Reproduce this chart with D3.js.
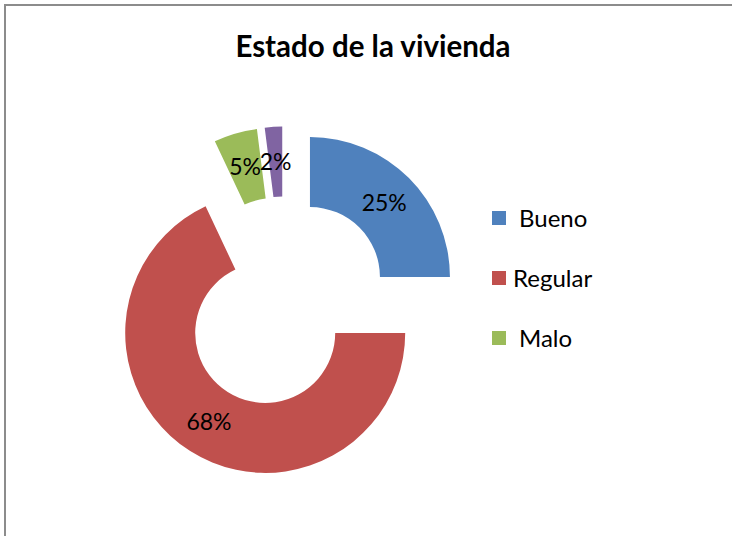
<!DOCTYPE html>
<html>
<head>
<meta charset="utf-8">
<script src="https://cdn.jsdelivr.net/npm/d3@7/dist/d3.min.js"></script>
<style>
	body { margin: 0; background: #fff; }
	svg { display: block; }
	text { font-family: Lato, "Open Sans", sans-serif; }
</style>
</head>
<body>
<svg id="chart" width="732" height="536"></svg>
<script>
// values
const categories = ['Bueno', 'Regular', 'Malo', 'Otro'];
const values = [25, 68, 5, 2];
const labels = ['25%', '68%', '5%', '2%'];
const legendItems = ['Bueno', 'Regular', 'Malo'];
const colors = ['#4f81bd', '#c0504d', '#9bbb59', '#8064a2'];

const width = 732;
const height = 536;
const cx = 284.5;
const cy = 302.5;
const outerR = 140;
const innerR = 70;
const explode = 36;

let svg = d3.select('#chart');

// chart frame
svg.append('rect')
	.attr('x', 5)
	.attr('y', 5)
	.attr('width', width + 10)
	.attr('height', height + 10)
	.attr('fill', '#fff')
	.attr('stroke', '#8c8c8c')
	.attr('stroke-width', 2);

svg.append('text')
	.attr('x', 373)
	.attr('y', 57)
	.attr('text-anchor', 'middle')
	.attr('font-size', 29.5)
	.attr('font-weight', 'bold')
	.text('Estado de la vivienda');

let pie = d3.pie().sort(null).value((d) => d);
let arcs = pie(values);

let arc = d3.arc().innerRadius(innerR).outerRadius(outerR);

// push each slice out along its bisector
function offset(d) {
	let a = (d.startAngle + d.endAngle) / 2;
	return [Math.sin(a) * explode, -Math.cos(a) * explode];
}

let slices = svg.append('g')
	.attr('transform', 'translate(' + cx + ',' + cy + ')')
	.selectAll('g')
	.data(arcs)
	.enter()
	.append('g')
	.attr('transform', function(d) {
		let o = offset(d);
		return 'translate(' + o[0] + ',' + o[1] + ')';
	});

slices.append('path')
	.attr('d', arc)
	.attr('fill', (d, i) => colors[i]);

slices.append('text')
	.attr('transform', (d) => 'translate(' + arc.centroid(d) + ')')
	.attr('text-anchor', 'middle')
	.attr('dy', '0.35em')
	.attr('font-size', 23)
	.attr('fill', '#000')
	.text((d, i) => labels[i]);

// legend
let legend = svg.append('g')
	.selectAll('g')
	.data(legendItems)
	.enter()
	.append('g')
	.attr('transform', (d, i) => 'translate(492,' + (211 + i * 60) + ')');

legend.append('rect')
	.attr('width', 14)
	.attr('height', 14)
	.attr('fill', (d, i) => colors[i]);

legend.append('text')
	.attr('x', (d) => d === 'Regular' ? 21 : 27)
	.attr('y', 7)
	.attr('dy', '0.36em')
	.attr('font-size', 24)
	.text((d) => d);
</script>
</body>
</html>
